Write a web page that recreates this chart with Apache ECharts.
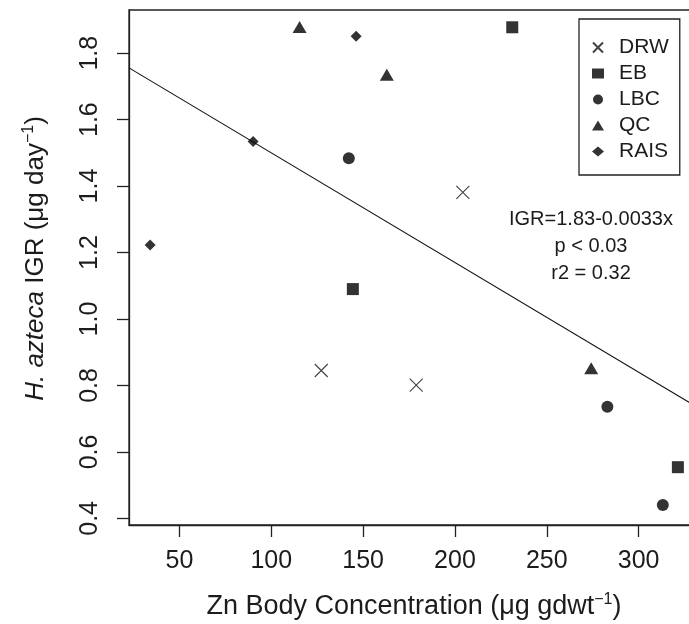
<!DOCTYPE html>
<html>
<head>
<meta charset="utf-8">
<script src="https://cdn.jsdelivr.net/npm/echarts@6/dist/echarts.min.js"></script>
<style>
html,body{margin:0;padding:0;overflow:hidden;background:#fff;width:689px;height:624px;}
#chart{width:700px;height:624px;}
</style>
</head>
<body>
<div id="chart"></div>
<script>
// ---- data ----
const drwX = [204.3, 127.2, 178.9];
const drwY = [1.381, 0.845, 0.801];
const ebX = [231.2, 144.4, 321.4];
const ebY = [1.878, 1.090, 0.554];
const lbcX = [142.2, 283.0, 313.2];
const lbcY = [1.484, 0.736, 0.440];
const qcX = [115.4, 162.9, 274.2];
const qcY = [1.879, 1.735, 0.852];
const raisX = [34.0, 90.1, 146.2];
const raisY = [1.223, 1.534, 1.851];
const xTicks = [50, 100, 150, 200, 250, 300];
const yTicks = [0.4, 0.6, 0.8, 1.0, 1.2, 1.4, 1.6, 1.8];
const fitIntercept = 1.83;
const fitSlope = -0.0033;
const annotation = ['IGR=1.83-0.0033x', 'p < 0.03', 'r2 = 0.32'];
const xMin = 22.5, xMax = 332.9, yMin = 0.38, yMax = 1.93;

const FONT = '"Liberation Sans", Arial, "Noto Sans", sans-serif';
const TXT = '#1c1c1c';
const pair = (xs, ys) => xs.map((x, i) => [x, ys[i]]);
const crossPath = 'path://M0,0L10,10M10,0L0,10';

const chart = echarts.init(document.getElementById('chart'));
const option = {
  animation: false,
  backgroundColor: '#fff',
  grid: {left: 129, top: 10, width: 570, height: 515, show: true, borderColor: '#222', borderWidth: 1.3,
    containLabel: false, outerBoundsMode: 'none'},
  xAxis: {
    type: 'value', min: xMin, max: xMax, splitNumber: 6,
    axisLine: {show: true, onZero: false, lineStyle: {color: '#222', width: 1.3}},
    axisTick: {show: true, length: 12, lineStyle: {color: '#222', width: 1.3}, customValues: xTicks},
    axisLabel: {margin: 24, fontSize: 25, color: TXT, fontFamily: FONT, customValues: xTicks},
    splitLine: {show: false},
    name: 'Zn Body Concentration (μg gdwt{sup|−1})',
    nameLocation: 'middle', nameGap: 67,
    nameTextStyle: {fontSize: 27, color: TXT, fontFamily: FONT, lineHeight: 30,
      rich: {sup: {fontSize: 16, verticalAlign: 'top', lineHeight: 16, color: TXT, fontFamily: FONT}}}
  },
  yAxis: {
    type: 'value', min: yMin, max: yMax, splitNumber: 8,
    axisLine: {show: true, onZero: false, lineStyle: {color: '#222', width: 1.3}},
    axisTick: {show: true, length: 12, lineStyle: {color: '#222', width: 1.3}, customValues: yTicks},
    axisLabel: {margin: 26, rotate: 90, fontSize: 25, color: TXT, fontFamily: FONT, customValues: yTicks,
      formatter: v => v.toFixed(1)},
    splitLine: {show: false},
    name: '{i|H. azteca} IGR (μg day{sup|−1})',
    nameLocation: 'middle', nameGap: 78, nameRotate: 90,
    nameTextStyle: {fontSize: 26, color: TXT, fontFamily: FONT, lineHeight: 30, padding: [0, 0, 0, 18],
      rich: {
        i: {fontStyle: 'italic', fontSize: 26, color: TXT, fontFamily: FONT, lineHeight: 30},
        sup: {fontSize: 16, verticalAlign: 'top', lineHeight: 16, color: TXT, fontFamily: FONT}
      }}
  },
  legend: {
    orient: 'vertical', left: 579, top: 19,
    padding: [18, 11, 13, 13], itemGap: 5, itemWidth: 12, itemHeight: 10,
    borderColor: '#222', borderWidth: 1.3, backgroundColor: '#fff',
    textStyle: {fontSize: 21, color: TXT, fontFamily: FONT, padding: [0, 0, 0, 10]},
    data: ['DRW', 'EB', 'LBC', 'QC', 'RAIS']
  },
  graphic: annotation.map((t, i) => ({
    type: 'text', x: 591, y: 219 + i * 27, silent: true,
    style: {text: t, fontSize: 20, fill: TXT, fontFamily: FONT, textAlign: 'center', textVerticalAlign: 'middle'}
  })),
  series: [
    {name: 'DRW', type: 'scatter', symbol: crossPath, symbolSize: 13, data: pair(drwX, drwY),
      itemStyle: {color: 'rgba(0,0,0,0)', borderColor: '#111', borderWidth: 1.1}},
    {name: 'EB', type: 'scatter', symbol: 'rect', symbolSize: 12, data: pair(ebX, ebY), itemStyle: {color: '#000'}},
    {name: 'LBC', type: 'scatter', symbol: 'circle', symbolSize: 12, data: pair(lbcX, lbcY), itemStyle: {color: '#000'}},
    {name: 'QC', type: 'scatter', symbol: 'triangle', symbolSize: [14, 12], data: pair(qcX, qcY), itemStyle: {color: '#000'}},
    {name: 'RAIS', type: 'scatter', symbol: 'diamond', symbolSize: 11, data: pair(raisX, raisY), itemStyle: {color: '#000'}},
    {name: 'fit', type: 'line', showSymbol: false, symbol: 'none', clip: true, z: 1,
      data: [[xMin, fitIntercept + fitSlope * xMin], [xMax, fitIntercept + fitSlope * xMax]],
      lineStyle: {color: '#111', width: 1.1}}
  ]
};
chart.setOption(option);
</script>
</body>
</html>
